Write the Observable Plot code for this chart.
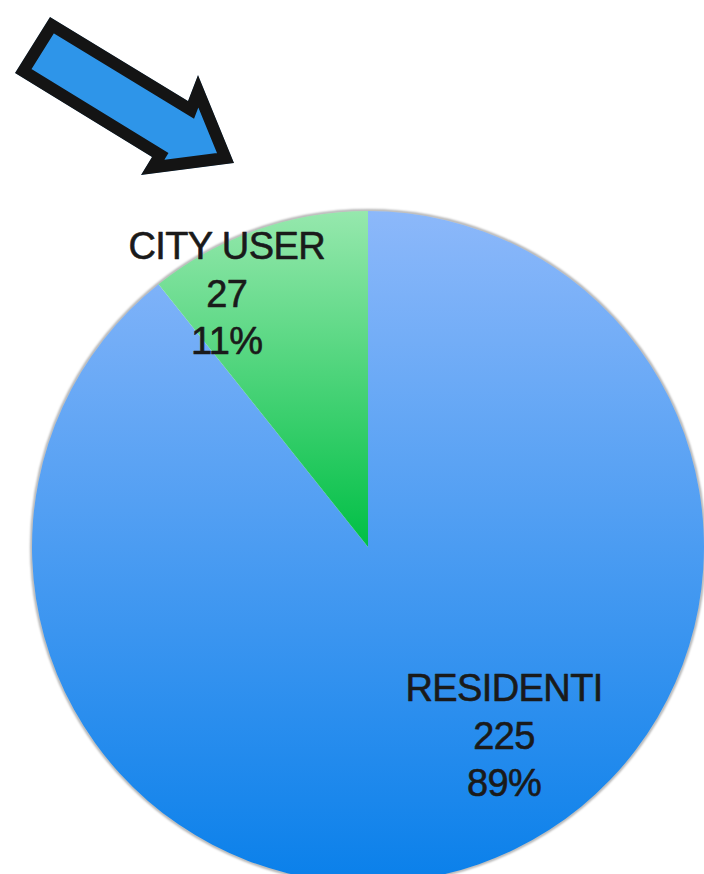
<!DOCTYPE html>
<html>
<head>
<meta charset="utf-8">
<script src="https://cdn.jsdelivr.net/npm/d3@7"></script>
<script src="https://cdn.jsdelivr.net/npm/@observablehq/plot@0.6"></script>
<style>
  html, body { margin: 0; padding: 0; background: #fff; }
  #chart { width: 704px; height: 874px; overflow: hidden; }
</style>
</head>
<body>
<div id="chart"></div>
<script>
// ---- data ----
const categories = ["RESIDENTI", "CITY USER"];
const counts = [225, 27];
const percentLabels = ["89%", "11%"];

// ---- style / layout (not data) ----
const gradTop = ["#8cb8fa", "#96e8ad"];
const gradBottom = ["#0a80ea", "#00bf45"];
const labelRadius = [0.685, 0.871];      // fraction of pie radius
const labelAngleShift = [-16.8, -9.7];   // degrees from slice mid-angle
// arrow decoration outline (pixels)
const arrowShape = [[50,17],[15,73],[152,157],[141,175],[234,163],[198,75],[188,101]];

const rows = categories.map((c, i) => ({category: c, count: counts[i], pct: percentLabels[i], i}));
const pie = d3.pie().sort(null).value(d => d.count)(rows);

const labels = pie.map((a, i) => {
  const ang = (a.startAngle + a.endAngle) / 2 + labelAngleShift[i] * Math.PI / 180;
  const rho = labelRadius[i];
  return {...a.data, lx: rho * Math.sin(ang), ly: rho * Math.cos(ang)};
});

const svgNS = "http://www.w3.org/2000/svg";
function el(name, attrs) {
  const e = document.createElementNS(svgNS, name);
  for (const k in attrs) e.setAttribute(k, attrs[k]);
  return e;
}

function pieMark(index, scales) {
  const {x, y} = scales;
  const cx = x(0), cy = y(0), r = x(1) - x(0);
  const g = el("g", {transform: `translate(${cx},${cy})`});
  const defs = el("defs", {});
  g.appendChild(defs);
  const f = el("filter", {id: "rimblur", x: "-10%", y: "-10%", width: "120%", height: "120%"});
  f.appendChild(el("feGaussianBlur", {stdDeviation: 1.3}));
  defs.appendChild(f);
  const arc = d3.arc().innerRadius(0).outerRadius(r);
  // soft rim
  g.appendChild(el("circle", {cx: 0, cy: 0, r: r + 0.5, fill: "none", stroke: "rgba(0,0,0,0.35)", "stroke-width": 2.5, filter: "url(#rimblur)"}));
  pie.forEach((a, i) => {
    const bb = i === 0 ? [-r, r] : [-r, 0];
    const lg = el("linearGradient", {id: "grad" + i, gradientUnits: "userSpaceOnUse", x1: 0, x2: 0, y1: bb[0], y2: bb[1]});
    lg.appendChild(el("stop", {offset: "0", "stop-color": gradTop[i]}));
    lg.appendChild(el("stop", {offset: "1", "stop-color": gradBottom[i]}));
    defs.appendChild(lg);
    g.appendChild(el("path", {d: arc(a), fill: `url(#grad${i})`}));
  });
  return g;
}

function arrowMark() {
  const g = el("g", {});
  const defs = el("defs", {});
  const cp = el("clipPath", {id: "arrowclip"});
  const pts = arrowShape.map(p => p.join(",")).join(" ");
  cp.appendChild(el("polygon", {points: pts}));
  defs.appendChild(cp);
  g.appendChild(defs);
  g.appendChild(el("polygon", {points: pts, fill: "#2e95e9", stroke: "#141414", "stroke-width": 24, "stroke-linejoin": "miter", "clip-path": "url(#arrowclip)"}));
  return g;
}

const chart = Plot.plot({
  width: 704,
  height: 874,
  margin: 0,
  x: {domain: [-1, 1], range: [32, 704], axis: null},
  y: {domain: [-1, 1], range: [883, 211], axis: null},
  style: {fontFamily: "'Liberation Sans', Arial, Helvetica, sans-serif", letterSpacing: "-0.6px", background: "#fff"},
  marks: [
    pieMark,
    arrowMark,
    Plot.text(labels, {
      x: "lx", y: "ly",
      text: d => `${d.category}\n${d.count}\n${d.pct}`,
      fontSize: 38,
      lineHeight: 1.25,
      textAnchor: "middle",
      fill: "#1a1a1a",
      stroke: "#1a1a1a",
      strokeWidth: 0.6
    })
  ]
});
document.getElementById("chart").appendChild(chart);
</script>
</body>
</html>
